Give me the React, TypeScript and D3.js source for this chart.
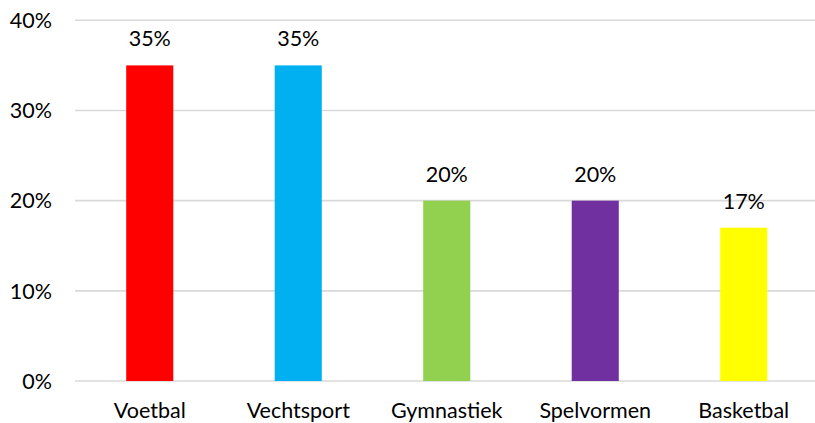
import React from "react";
import * as d3 from "d3";

const categories = ["Voetbal", "Vechtsport", "Gymnastiek", "Spelvormen", "Basketbal"];
const values = [35, 35, 20, 20, 17];
const colors = ["#FF0000", "#00B0F0", "#92D050", "#7030A0", "#FFFF00"];
const yTicks = [0, 10, 20, 30, 40];

const W = 815;
const H = 423;
const FONT = "Lato, 'Open Sans', sans-serif";
const FS = 21.5;

export default function App() {
  const x = d3.scaleBand<string>().domain(categories).range([75.5, 818]).paddingInner(0.683).paddingOuter(0.3415);
  const y = d3.scaleLinear().domain([0, 40]).range([381, 20.3]);
  return (
    <svg width={W} height={H} style={{ position: "absolute", left: 0, top: 0, background: "#fff" }}>
      {yTicks.map((t) => (
        <g key={t}>
          <line x1={75} x2={W} y1={y(t)} y2={y(t)} stroke="#d9d9d9" strokeWidth={1.6} />
          <text x={52} y={y(t)} dy="0.36em" textAnchor="end" fontFamily={FONT} fontSize={FS} fill="#000">
            {t}%
          </text>
        </g>
      ))}
      {categories.map((c, i) => (
        <g key={c}>
          <rect x={x(c)} y={y(values[i])} width={x.bandwidth()} height={y(0) - y(values[i])} fill={colors[i]} />
          <text x={x(c)! + x.bandwidth() / 2} y={y(values[i]) - 19} textAnchor="middle" fontFamily={FONT} fontSize={FS} fill="#000">
            {values[i]}%
          </text>
          <text x={x(c)! + x.bandwidth() / 2} y={418} textAnchor="middle" fontFamily={FONT} fontSize={FS} fill="#000">
            {c}
          </text>
        </g>
      ))}
    </svg>
  );
}
